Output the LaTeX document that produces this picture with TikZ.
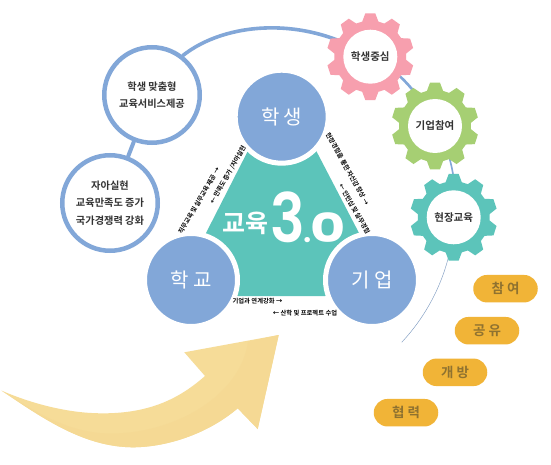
\documentclass[tikz,border=0pt]{standalone}
\usepackage{fontspec}
\setmainfont{Noto Sans CJK KR}[BoldFont={Noto Sans CJK KR Bold}]
\newfontfamily\logofont{Poppins SemiBold}
\newfontfamily\logofontb{Poppins Bold}
\definecolor{hub}{HTML}{82A7D8}
\definecolor{teal}{HTML}{5CC4BA}
\definecolor{pinkg}{HTML}{F79FAE}
\definecolor{greeng}{HTML}{A6CF73}
\definecolor{pill}{HTML}{F1B437}
\definecolor{pilltext}{HTML}{8F7230}
\definecolor{ink}{HTML}{333333}
\definecolor{arrowa}{HTML}{F6DC98}
\definecolor{arrowb}{HTML}{F5D994}
\tikzset{
  x=1pt,y=-1pt,
  hubnode/.style={circle,fill=hub,draw=white,line width=5pt,minimum size=93pt,inner sep=0pt,text=white,font=\fontsize{20}{22}\selectfont},
  ringnode/.style={circle,fill=white,draw=hub,line width=4.5pt,minimum size=95.5pt,inner sep=0pt,align=center,text=ink,font=\bfseries\fontsize{10.2}{17.4}\selectfont},
  gearhole/.style={circle,fill=white,minimum size=54pt,inner sep=0pt,text=ink,font=\bfseries\fontsize{10.5}{12}\selectfont},
  pillnode/.style={rounded corners=13.75pt,fill=pill,minimum width=64.5pt,minimum height=27.5pt,inner sep=0pt,text=pilltext,font=\bfseries\fontsize{13.5}{15}\selectfont},
  smalltext/.style={inner sep=0pt,text=black,font=\bfseries\fontsize{6.3}{7}\selectfont},
  link/.style={draw=hub,line cap=round}
}
\newcommand{\gearshape}[3]{%
  \fill[#3,shift={(#1,#2)}] (77:36) \foreach \a in {90,54,18,-18,-54,-90,-126,-162,-198,-234}{
    -- (\a+13:36) -- (\a+6.5:43.7) -- (\a-6.5:43.7) -- (\a-13:36) -- (\a-23:36)} -- cycle;}
\begin{document}
\begin{tikzpicture}
\useasboundingbox (0,0) rectangle (551,465);
\fill[white] (0,0) rectangle (551,465);
% arrow
\fill[arrowa] (1.7,390.7) .. controls (35,405) and (70,413) .. (100,413.3)
  .. controls (150,414) and (180,398) .. (205,376) -- (184.3,352.3) -- (278.7,335) -- (257.7,429) -- (237.7,408.3)
  .. controls (210,432) and (170,447) .. (133,447.3) .. controls (85,447) and (45,420) .. (1.7,390.7) -- cycle;
\fill[arrowb] (1.7,390.7) .. controls (35,412) and (65,430) .. (100,433) .. controls (165,438) and (240,400) .. (248,341.7) -- (278.7,335) -- (257.7,429) -- (237.7,408.3)
  .. controls (210,432) and (170,447) .. (133,447.3) .. controls (85,447) and (45,420) .. (1.7,390.7) -- cycle;
% teal body
\fill[teal] (206,233) -- (255,137) -- (309,137) -- (359,233) -- (372,280) -- (325,296) -- (238,296) -- (191,280) -- cycle;
% hubs
\node[hubnode] (student) at (281.7,116.7) {학 생};
\node[hubnode] (school) at (191,280) {학 교};
\node[hubnode] (company) at (372,280) {기 업};
% logo
\node[inner sep=0pt,text=white,anchor=base west] (logo) at (222,242.5) {\raisebox{10pt}{\bfseries\fontsize{25}{25}\selectfont 교육}\hspace{2.5pt}\logofont\fontsize{68}{68}\selectfont\scalebox{.85}[1]{3}\hspace{-1.5pt}\fontsize{32}{32}\selectfont.\hspace{-1.5pt}\logofontb\fontsize{40}{40}\selectfont\scalebox{1.35}[1]{0}};
% ring nodes
\node[ringnode] (demand) at (152,95) {학생 맞춤형\\교육서비스제공};
\node[ringnode] (self) at (110,203) {자아실현\\교육만족도 증가\\국가경쟁력 강화};
\coordinate (pinkc) at (370.3,56.7);
\coordinate (greenc) at (435,126);
\coordinate (tealc) at (453.7,217.3);
\coordinate (tailend) at (401.7,342.3);
% connectors
\draw[link,line width=4pt] (demand) -- (self);
\draw[link,line width=3.6pt] (demand.52) .. controls (225,22) and (305,15) .. (pinkc);
\draw[link,line width=2.6pt] (pinkc) .. controls (400,70) and (420,95) .. (greenc);
\draw[link,line width=1.6pt] (greenc) .. controls (450,150) and (458,180) .. (tealc);
\draw[draw=hub!75!gray,line width=.45pt] (tealc) .. controls (453,265) and (432,310) .. (tailend);
% gears
\gearshape{370.3}{56.7}{pinkg}
\gearshape{435}{126}{greeng}
\gearshape{453.7}{217.3}{teal}
\node[gearhole] (g1) at (pinkc) {학생중심};
\node[gearhole] (g2) at (greenc) {기업참여};
\node[gearhole] (g3) at (tealc) {현장교육};
% pills
\node[pillnode] (p1) at (505.5,288.7) {참 여};
\node[pillnode] (p2) at (487,330.7) {공 유};
\node[pillnode] (p3) at (455,372.3) {개 방};
\node[pillnode] (p4) at (406,412.7) {협 력};
% small labels
\node[smalltext,rotate=60] (l1) at (199,201) {직무교육 및 실무교육 제공 →};
\node[smalltext,rotate=60] (l2) at (228,175) {← 만족도 증가 /자아실현};
\node[smalltext,rotate=-61] (l3) at (347.5,169) {현장경험을 통한 자신감 향상 →};
\node[smalltext,rotate=-61] (l4) at (354.5,209) {← 인턴십 및 실무경험};
\node[smalltext] (l5) at (257.5,301) {기업과 연계강화 →};
\node[smalltext] (l6) at (305,313) {← 산학 및 프로젝트 수업};
\end{tikzpicture}
\end{document}
